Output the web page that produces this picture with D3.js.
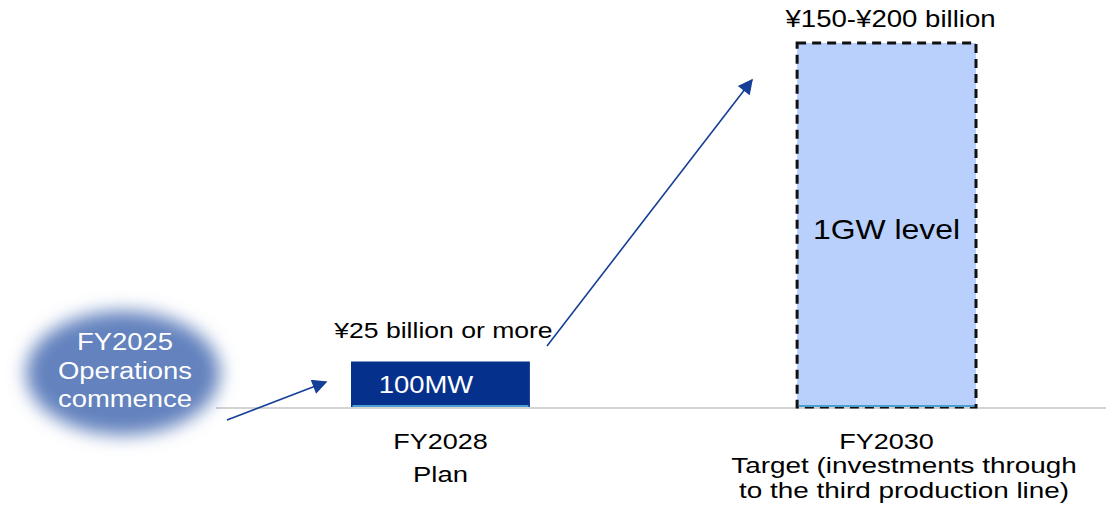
<!DOCTYPE html>
<html>
<head>
<meta charset="utf-8">
<script src="https://cdn.jsdelivr.net/npm/d3@7"></script>
<style>
  html, body { margin: 0; padding: 0; background: #fff; }
  svg { display: block; }
  text { font-family: "Liberation Sans", Arial, sans-serif; }
</style>
</head>
<body>
<svg id="chart" width="1106" height="516"></svg>
<script>
// ---- data ----
const categories = ["FY2028", "FY2030"];
const investment = [25, 200];               // ¥ billion (upper value of range)
const valueLabels = ["¥25 billion or more", "¥150-¥200 billion"];
const capacityLabels = ["100MW", "1GW level"];
const subLabels = [["Plan"], ["Target (investments through", "to the third production line)"]];
const startLabel = ["FY2025", "Operations", "commence"];

// ---- layout ----
const W = 1106, H = 516;
const baseY = 407, topY = 43;
const svg = d3.select("#chart");

const x = d3.scaleBand().domain(categories).range([351, 976]).paddingInner(0.599).paddingOuter(0);
const y = d3.scaleLinear().domain([0, 200]).range([baseY, topY]);

const defs = svg.append("defs");
defs.append("filter").attr("id", "blur").attr("x", "-40%").attr("y", "-40%").attr("width", "180%").attr("height", "180%")
  .append("feGaussianBlur").attr("stdDeviation", 9);
defs.append("marker").attr("id", "arrow").attr("viewBox", "0 0 10 10")
  .attr("refX", 9).attr("refY", 5).attr("markerWidth", 16).attr("markerHeight", 15)
  .attr("markerUnits", "userSpaceOnUse").attr("orient", "auto")
  .append("path").attr("d", "M0,0 L10,5 L0,10 Z").attr("fill", "#153e96");

// helper for horizontally stretched text
function label(g, txt, cx, by, size, fill, sx) {
  return g.append("text")
    .attr("transform", `translate(${cx},${by}) scale(${sx},1)`)
    .attr("text-anchor", "middle")
    .attr("font-size", size)
    .attr("fill", fill)
    .text(txt);
}

// baseline
svg.append("line").attr("x1", 216).attr("x2", W).attr("y1", baseY + 1).attr("y2", baseY + 1)
  .attr("stroke", "#d3d3d3").attr("stroke-width", 2);

// start ellipse (blurred)
const eg = svg.append("g");
eg.append("ellipse").attr("cx", 123).attr("cy", 373).attr("rx", 97).attr("ry", 62)
  .attr("fill", "#6482be").attr("filter", "url(#blur)");
startLabel.forEach((t, i) => label(eg, t, 125, 350 + i * 28.5, 24.5, "#ffffff", 1.12));

// bars
const bars = svg.append("g");
categories.forEach((c, i) => {
  const bx = x(c), bw = x.bandwidth(), ty = y(investment[i]);
  if (i === 0) {
    bars.append("rect").attr("x", bx).attr("y", ty).attr("width", bw).attr("height", baseY - ty)
      .attr("fill", "#05318c");
  } else {
    bars.append("rect").attr("x", bx).attr("y", ty).attr("width", bw).attr("height", baseY - ty)
      .attr("fill", "#b9d0fc").attr("stroke", "#111").attr("stroke-width", 3)
      .attr("stroke-dasharray", "9,6");
  }
  bars.append("line").attr("x1", bx + 1.5).attr("x2", bx + bw - 1.5).attr("y1", baseY - 1).attr("y2", baseY - 1)
    .attr("stroke", "#4a9fd0").attr("stroke-width", 2);
});

// value labels above bars
label(svg, valueLabels[0], x(categories[0]) + x.bandwidth() / 2 + 3, y(investment[0]) - 23.5, 22.5, "#000", 1.18);
label(svg, valueLabels[1], x(categories[1]) + x.bandwidth() / 2 + 4, y(investment[1]) - 16, 23, "#000", 1.2);

// capacity labels inside bars
label(svg, capacityLabels[0], x(categories[0]) + 75, 393, 24.5, "#ffffff", 1.12);
label(svg, capacityLabels[1], x(categories[1]) + x.bandwidth() / 2, 239, 28.5, "#000", 1.12);

// category labels
categories.forEach((c, i) => {
  const cx = x(c) + x.bandwidth() / 2;
  label(svg, c, cx, 449, 22.5, "#000", 1.2);
  if (i === 0) {
    label(svg, subLabels[i][0], cx, 482, 22.5, "#000", 1.22);
  } else {
    subLabels[i].forEach((t, j) => label(svg, t, cx + 17.5, 473 + j * 25, 22.5, "#000", 1.24));
  }
});

// arrows
const arrows = svg.append("g").attr("stroke", "#153e96").attr("stroke-width", 1.6).attr("fill", "none");
arrows.append("line").attr("x1", 227).attr("y1", 420).attr("x2", 326).attr("y2", 382).attr("marker-end", "url(#arrow)");
arrows.append("line").attr("x1", 547).attr("y1", 346).attr("x2", 752).attr("y2", 80).attr("marker-end", "url(#arrow)");
</script>
</body>
</html>
